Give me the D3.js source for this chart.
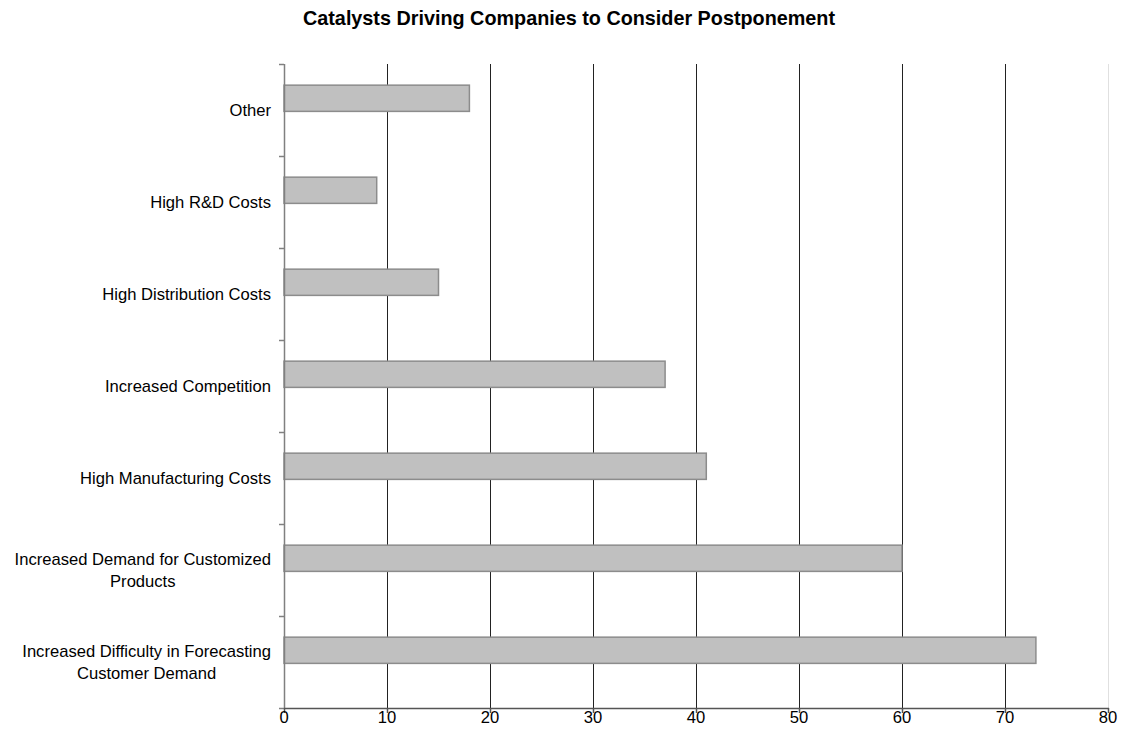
<!DOCTYPE html>
<html>
<head>
<meta charset="utf-8">
<script src="https://cdn.jsdelivr.net/npm/d3@7"></script>
<style>
  html, body { margin: 0; padding: 0; background: #fff; }
  text { font-family: "Liberation Sans", Arial, sans-serif; }
</style>
</head>
<body>
<svg id="chart" width="1130" height="744"></svg>
<script>
// Categories listed top to bottom
const categories = [
  "Other",
  "High R&D Costs",
  "High Distribution Costs",
  "Increased Competition",
  "High Manufacturing Costs",
  "Increased Demand for Customized Products",
  "Increased Difficulty in Forecasting Customer Demand"
];
// Label line breaks for the long category names
const labelLines = [
  ["Other"],
  ["High R&D Costs"],
  ["High Distribution Costs"],
  ["Increased Competition"],
  ["High Manufacturing Costs"],
  ["Increased Demand for Customized", "Products"],
  ["Increased Difficulty in Forecasting", "Customer Demand"]
];
const values = [18, 9, 15, 37, 41, 60, 73];
const xTicks = [0, 10, 20, 30, 40, 50, 60, 70, 80];
const title = "Catalysts Driving Companies to Consider Postponement";

(function () {
const svg = d3.select("#chart");
const mLeft = 284, mRight = 1108, mTop = 64, mBottom = 708;
const fs = 16.6;
const labelRight = 271;

const x = d3.scaleLinear().domain([0, 80]).range([mLeft, mRight]);
const y = d3.scaleBand().domain(categories).range([mTop, mBottom]).padding(0);
const bw = y.bandwidth();

// Title
svg.append("text")
  .attr("x", 569).attr("y", 25)
  .attr("text-anchor", "middle")
  .attr("font-size", 19.8).attr("font-weight", "bold")
  .attr("fill", "#000")
  .text(title);

// Vertical gridlines
svg.append("g").selectAll("line")
  .data(xTicks.filter(d => d > 0))
  .join("line")
  .attr("x1", d => Math.round(x(d)) + 0.5).attr("x2", d => Math.round(x(d)) + 0.5)
  .attr("y1", mTop).attr("y2", mBottom)
  .attr("stroke", d => d === 80 ? "#e0e0e0" : "#222")
  .attr("stroke-width", 1);

// Bars (sit in the upper part of each band)
svg.append("g").selectAll("rect")
  .data(values)
  .join("rect")
  .attr("x", x(0))
  .attr("y", (d, i) => y(categories[i]) + bw * 0.23)
  .attr("width", d => x(d) - x(0))
  .attr("height", bw * 0.285)
  .attr("fill", "#c0c0c0")
  .attr("stroke", "#8c8c8c")
  .attr("stroke-width", 1.5);

// Y axis
const yAxis = svg.append("g");
yAxis.append("line")
  .attr("x1", mLeft + 0.5).attr("x2", mLeft + 0.5)
  .attr("y1", mTop).attr("y2", mBottom)
  .attr("stroke", "#808080").attr("stroke-width", 1.5);
const yTicks = categories.map(c => y(c)).concat([mBottom]);
yAxis.selectAll("line.tick")
  .data(yTicks)
  .join("line")
  .attr("class", "tick")
  .attr("x1", mLeft - 5).attr("x2", mLeft)
  .attr("y1", d => Math.round(d) + 0.5).attr("y2", d => Math.round(d) + 0.5)
  .attr("stroke", "#808080").attr("stroke-width", 1.5);

// Category labels: a block right-aligned to the axis, lines centred within it
const lbl = svg.append("g").selectAll("text")
  .data(categories)
  .join("text")
  .attr("text-anchor", "middle")
  .attr("font-size", fs)
  .attr("fill", "#000");
lbl.each(function(c, i) {
  const lines = labelLines[i];
  const cy = y(c) + bw / 2;
  const lh = 22;
  const t = d3.select(this);
  const spans = lines.map((s, k) => t.append("tspan")
    .attr("y", cy + 6 + (k - (lines.length - 1) / 2) * lh)
    .text(s));
  const maxW = d3.max(spans, sp => sp.node().getComputedTextLength());
  spans.forEach(sp => sp.attr("x", labelRight - maxW / 2));
});

// X axis
const xAxis = svg.append("g");
xAxis.append("line")
  .attr("x1", mLeft).attr("x2", mRight + 1)
  .attr("y1", mBottom + 0.5).attr("y2", mBottom + 0.5)
  .attr("stroke", "#555").attr("stroke-width", 1.5);
xAxis.selectAll("line.tick")
  .data(xTicks)
  .join("line")
  .attr("class", "tick")
  .attr("x1", d => Math.round(x(d)) + 0.5).attr("x2", d => Math.round(x(d)) + 0.5)
  .attr("y1", mBottom).attr("y2", mBottom + 5)
  .attr("stroke", "#555").attr("stroke-width", 1.5);
xAxis.selectAll("text")
  .data(xTicks)
  .join("text")
  .attr("x", d => x(d))
  .attr("y", mBottom + 15)
  .attr("text-anchor", "middle")
  .attr("font-size", fs)
  .attr("fill", "#000")
  .text(d => d);
})();
</script>
</body>
</html>
